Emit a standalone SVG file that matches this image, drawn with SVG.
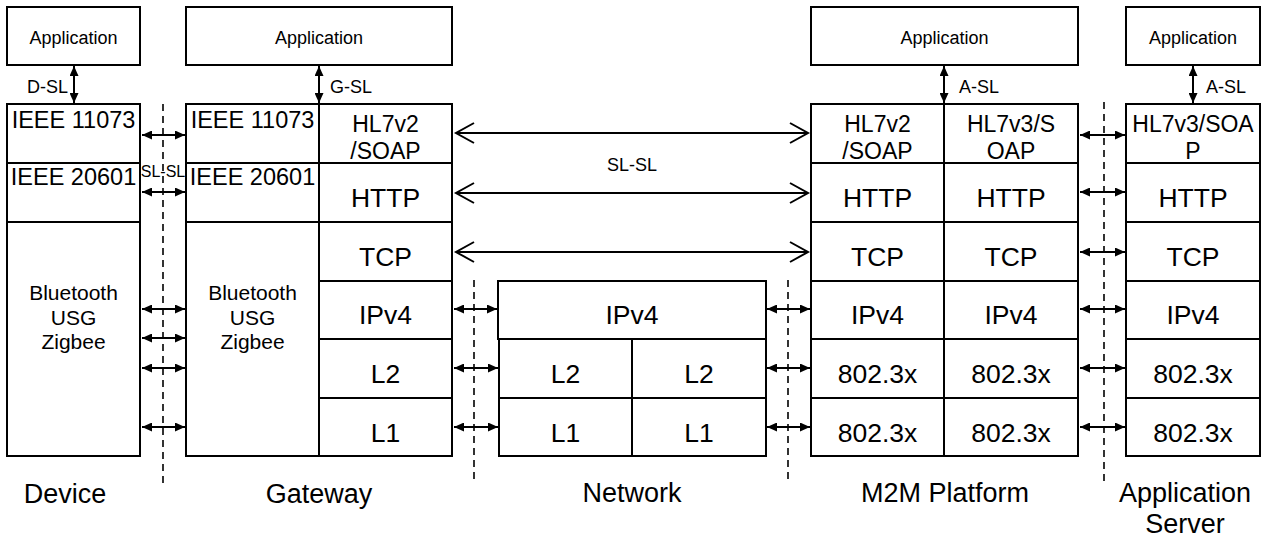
<svg xmlns="http://www.w3.org/2000/svg" width="1263" height="540" viewBox="0 0 1263 540">
<defs>
<style>
.box{fill:#fff;stroke:#000;stroke-width:2}
.ln{stroke:#000;stroke-width:2;fill:none}
.dash{stroke:#000;stroke-width:1.6;stroke-dasharray:7 5;fill:none}
.sa{stroke:#000;stroke-width:2;fill:none;marker-start:url(#fh);marker-end:url(#fh)}
.la{stroke:#000;stroke-width:2;fill:none;marker-start:url(#oh);marker-end:url(#oh)}
text{font-family:"Liberation Sans",Arial,sans-serif;fill:#000}
.app{font-size:18px;text-anchor:middle}
.lbl{font-size:18px}
.ieee{font-size:23.5px;text-anchor:middle}
.bt{font-size:21px;text-anchor:middle}
.hl{font-size:23px;text-anchor:middle}
.layer{font-size:26.5px;text-anchor:middle}
.name{font-size:27px;text-anchor:middle}
</style>
<marker id="fh" markerUnits="userSpaceOnUse" viewBox="0 0 10 9" refX="10" refY="4.5" markerWidth="10" markerHeight="9" orient="auto-start-reverse"><path d="M0,0 L10,4.5 L0,9 z" fill="#000"/></marker>
<marker id="oh" markerUnits="userSpaceOnUse" viewBox="-2 -2 24 24" refX="18" refY="10" markerWidth="24" markerHeight="24" orient="auto-start-reverse" overflow="visible"><path d="M0,0 L18,10 L0,20" fill="none" stroke="#000" stroke-width="2"/></marker>
</defs>

<g id="device">
<rect class="box" x="7" y="7" width="133" height="58"/>
<text class="app" x="73.5" y="44">Application</text>
<rect class="box" x="7" y="104" width="133" height="352"/>
<line class="ln" x1="7" y1="163" x2="140" y2="163"/>
<line class="ln" x1="7" y1="222" x2="140" y2="222"/>
<text class="ieee" x="73.5" y="128">IEEE 11073</text>
<text class="ieee" x="73.5" y="185">IEEE 20601</text>
<text class="bt" x="73.5" y="300">Bluetooth</text>
<text class="bt" x="73.5" y="325">USG</text>
<text class="bt" x="73.5" y="349">Zigbee</text>
<text class="name" x="65" y="503">Device</text>
</g>

<g id="gateway">
<rect class="box" x="186" y="7" width="266" height="58"/>
<text class="app" x="319" y="44">Application</text>
<rect class="box" x="186" y="104" width="266" height="352"/>
<line class="ln" x1="319" y1="104" x2="319" y2="456"/>
<line class="ln" x1="186" y1="163" x2="452" y2="163"/>
<line class="ln" x1="186" y1="222" x2="452" y2="222"/>
<line class="ln" x1="319" y1="281" x2="452" y2="281"/>
<line class="ln" x1="319" y1="339" x2="452" y2="339"/>
<line class="ln" x1="319" y1="398" x2="452" y2="398"/>
<text class="ieee" x="252.5" y="128">IEEE 11073</text>
<text class="ieee" x="252.5" y="185">IEEE 20601</text>
<text class="bt" x="252.5" y="300">Bluetooth</text>
<text class="bt" x="252.5" y="325">USG</text>
<text class="bt" x="252.5" y="349">Zigbee</text>
<text class="hl" x="385.5" y="131.5">HL7v2</text>
<text class="hl" x="385.5" y="159">/SOAP</text>
<text class="layer" x="385.5" y="207">HTTP</text>
<text class="layer" x="385.5" y="266">TCP</text>
<text class="layer" x="385.5" y="324">IPv4</text>
<text class="layer" x="385.5" y="383">L2</text>
<text class="layer" x="385.5" y="442">L1</text>
<text class="name" x="319" y="503">Gateway</text>
</g>

<g id="network">
<rect class="box" x="498" y="281" width="268" height="58"/>
<text class="layer" x="632" y="324">IPv4</text>
<rect class="box" x="499" y="339" width="267" height="117"/>
<line class="ln" x1="632" y1="339" x2="632" y2="456"/>
<line class="ln" x1="499" y1="398" x2="766" y2="398"/>
<text class="layer" x="565.5" y="383">L2</text>
<text class="layer" x="699" y="383">L2</text>
<text class="layer" x="565.5" y="442">L1</text>
<text class="layer" x="699" y="442">L1</text>
<text class="name" x="632" y="502">Network</text>
</g>

<g id="m2m">
<rect class="box" x="811" y="7" width="267" height="58"/>
<text class="app" x="944.5" y="44">Application</text>
<rect class="box" x="811" y="104" width="267" height="352"/>
<line class="ln" x1="944" y1="104" x2="944" y2="456"/>
<line class="ln" x1="811" y1="163" x2="1078" y2="163"/>
<line class="ln" x1="811" y1="222" x2="1078" y2="222"/>
<line class="ln" x1="811" y1="281" x2="1078" y2="281"/>
<line class="ln" x1="811" y1="339" x2="1078" y2="339"/>
<line class="ln" x1="811" y1="398" x2="1078" y2="398"/>
<text class="hl" x="877.5" y="131.5">HL7v2</text>
<text class="hl" x="877.5" y="159">/SOAP</text>
<text class="hl" x="1011" y="131.5">HL7v3/S</text>
<text class="hl" x="1011" y="159">OAP</text>
<text class="layer" x="877.5" y="207">HTTP</text>
<text class="layer" x="1011" y="207">HTTP</text>
<text class="layer" x="877.5" y="266">TCP</text>
<text class="layer" x="1011" y="266">TCP</text>
<text class="layer" x="877.5" y="324">IPv4</text>
<text class="layer" x="1011" y="324">IPv4</text>
<text class="layer" x="877.5" y="383">802.3x</text>
<text class="layer" x="1011" y="383">802.3x</text>
<text class="layer" x="877.5" y="442">802.3x</text>
<text class="layer" x="1011" y="442">802.3x</text>
<text class="name" x="945" y="502">M2M Platform</text>
</g>

<g id="appserver">
<rect class="box" x="1126" y="7" width="134" height="58"/>
<text class="app" x="1193" y="44">Application</text>
<rect class="box" x="1126" y="104" width="134" height="352"/>
<line class="ln" x1="1126" y1="163" x2="1260" y2="163"/>
<line class="ln" x1="1126" y1="222" x2="1260" y2="222"/>
<line class="ln" x1="1126" y1="281" x2="1260" y2="281"/>
<line class="ln" x1="1126" y1="339" x2="1260" y2="339"/>
<line class="ln" x1="1126" y1="398" x2="1260" y2="398"/>
<text class="hl" x="1193" y="131.5">HL7v3/SOA</text>
<text class="hl" x="1193" y="159">P</text>
<text class="layer" x="1193" y="207">HTTP</text>
<text class="layer" x="1193" y="266">TCP</text>
<text class="layer" x="1193" y="324">IPv4</text>
<text class="layer" x="1193" y="383">802.3x</text>
<text class="layer" x="1193" y="442">802.3x</text>
<text class="name" x="1185" y="502">Application</text>
<text class="name" x="1185" y="533">Server</text>
</g>

<g id="connectors">
<line class="dash" x1="163" y1="104" x2="163" y2="486"/>
<line class="dash" x1="474" y1="280" x2="474" y2="482"/>
<line class="dash" x1="788" y1="280" x2="788" y2="482"/>
<line class="dash" x1="1104" y1="102" x2="1104" y2="482"/>

<line class="sa" x1="74" y1="66" x2="74" y2="103"/>
<line class="sa" x1="319" y1="66" x2="319" y2="103"/>
<line class="sa" x1="944" y1="66" x2="944" y2="103"/>
<line class="sa" x1="1193" y1="66" x2="1193" y2="103"/>

<line class="sa" x1="142" y1="135" x2="185" y2="135"/>
<line class="sa" x1="142" y1="192" x2="185" y2="192"/>
<line class="sa" x1="142" y1="309" x2="185" y2="309"/>
<line class="sa" x1="142" y1="338" x2="185" y2="338"/>
<line class="sa" x1="142" y1="368" x2="185" y2="368"/>
<line class="sa" x1="142" y1="427" x2="185" y2="427"/>

<line class="sa" x1="454" y1="309" x2="497" y2="309"/>
<line class="sa" x1="454" y1="368" x2="498" y2="368"/>
<line class="sa" x1="454" y1="427" x2="498" y2="427"/>

<line class="sa" x1="767" y1="309" x2="810" y2="309"/>
<line class="sa" x1="767" y1="368" x2="810" y2="368"/>
<line class="sa" x1="767" y1="427" x2="810" y2="427"/>

<line class="sa" x1="1080" y1="135" x2="1125" y2="135"/>
<line class="sa" x1="1080" y1="192" x2="1125" y2="192"/>
<line class="sa" x1="1080" y1="252" x2="1125" y2="252"/>
<line class="sa" x1="1080" y1="309" x2="1125" y2="309"/>
<line class="sa" x1="1080" y1="368" x2="1125" y2="368"/>
<line class="sa" x1="1080" y1="427" x2="1125" y2="427"/>

<line class="la" x1="456" y1="133" x2="808" y2="133"/>
<line class="la" x1="456" y1="193" x2="808" y2="193"/>
<line class="la" x1="456" y1="252" x2="808" y2="252"/>

<text class="lbl" x="68" y="93" text-anchor="end">D-SL</text>
<text class="lbl" x="330" y="93">G-SL</text>
<text class="lbl" x="959" y="93">A-SL</text>
<text class="lbl" x="1206" y="93">A-SL</text>
<text class="lbl" x="632" y="171" text-anchor="middle">SL-SL</text>
<text x="163" y="177" font-size="16" text-anchor="middle">SL-SL</text>
</g>
</svg>
